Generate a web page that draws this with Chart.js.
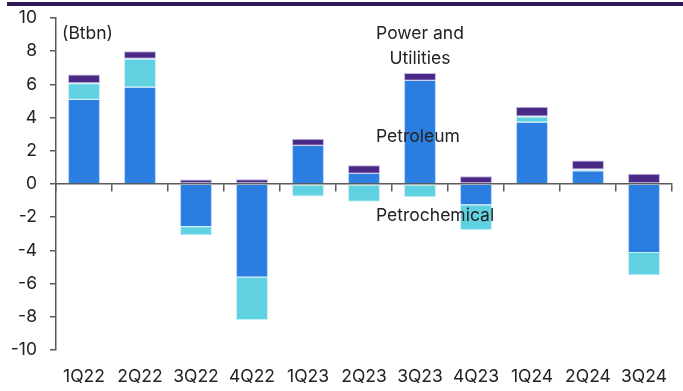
<!DOCTYPE html>
<html>
<head>
<meta charset="utf-8">
<script src="https://cdn.jsdelivr.net/npm/chart.js@4/dist/chart.umd.min.js"></script>
<style>
  html, body { margin: 0; padding: 0; background: #ffffff; }
  #wrap { position: relative; width: 683px; height: 391px; }
</style>
</head>
<body>
<div id="wrap"><canvas id="c" width="683" height="391"></canvas></div>
<script>
const categories = ['1Q22','2Q22','3Q22','4Q22','1Q23','2Q23','3Q23','4Q23','1Q24','2Q24','3Q24'];
const petroleum     = [5.07, 5.82, -2.54, -5.59, 2.30, 0.61, 6.22, -1.23, 3.70, 0.77, -4.10];
const petrochemical = [1.00, 1.72, -0.55, -2.61, -0.75, -1.07, -0.80, -1.56, 0.36, 0.10, -1.40];
const power         = [0.52, 0.46, 0.27, 0.28, 0.42, 0.52, 0.47, 0.47, 0.59, 0.55, 0.62];
const yTicks = [10, 8, 6, 4, 2, 0, -2, -4, -6, -8, -10];
const unitLabel = '(Btbn)';

const FONT = 'Inter, "Open Sans", sans-serif';
const TXT = '#222222';
const AXIS = '#5a5a5a';
const FS = 17.5;

const decor = {
  id: 'decor',
  beforeDraw(chart) {
    const ctx = chart.ctx;
    ctx.save();
    ctx.fillStyle = '#2f1a57';
    ctx.fillRect(7, 2, chart.width - 7, 4);
    ctx.restore();
  },
  afterDatasetsDraw(chart) {
    const ctx = chart.ctx;
    const xs = chart.scales.x, ys = chart.scales.y;
    ctx.save();
    ctx.fillStyle = TXT;
    ctx.font = FS + 'px ' + FONT;
    ctx.textBaseline = 'middle';
    ctx.textAlign = 'left';
    ctx.fillText(unitLabel, xs.left + 6, ys.getPixelForValue(9.05));
    const cx = xs.getPixelForValue(6);
    ctx.textAlign = 'center';
    ctx.fillText('Power and', cx, ys.getPixelForValue(9.07));
    ctx.fillText('Utilities', cx, ys.getPixelForValue(7.52));
    ctx.textAlign = 'left';
    ctx.fillText('Petroleum', cx - 44, ys.getPixelForValue(2.87));
    ctx.fillText('Petrochemical', cx - 44, ys.getPixelForValue(-1.93));
    ctx.restore();
  }
};

new Chart(document.getElementById('c'), {
  type: 'bar',
  data: {
    labels: categories,
    datasets: [
      { label: 'Petroleum', data: petroleum, backgroundColor: '#2b7de0', borderColor: 'rgba(160,200,245,0.8)', borderWidth: {left:1,right:1,top:0,bottom:0}, borderSkipped: false },
      { label: 'Petrochemical', data: petrochemical, backgroundColor: '#5fd1e0', borderColor: 'rgba(190,240,245,0.9)', borderWidth: 1, borderSkipped: false },
      { label: 'Power and Utilities', data: power, backgroundColor: '#4a2886', borderColor: 'rgba(170,150,210,0.7)', borderWidth: 1, borderSkipped: false }
    ]
  },
  options: {
    responsive: false,
    animation: false,
    devicePixelRatio: 1,
    layout: { padding: { left: 0, right: 11, top: 18, bottom: 0 } },
    plugins: { legend: { display: false }, tooltip: { enabled: false } },
    datasets: { bar: { categoryPercentage: 1, barPercentage: 0.57 } },
    scales: {
      x: {
        stacked: true,
        offset: true,
        grid: { display: false, drawTicks: false },
        border: { display: false },
        ticks: { color: TXT, font: { family: FONT, size: FS }, padding: 16, maxRotation: 0, autoSkip: false },
        afterFit(s) { s.height = 41; s.paddingLeft = 0; s.paddingRight = 0; }
      },
      x2: {
        type: 'category',
        axis: 'x',
        labels: categories,
        position: { y: 0 },
        offset: true,
        grid: { display: true, drawOnChartArea: false, drawTicks: true, tickLength: 7, offset: true, color: AXIS, lineWidth: 1.5 },
        border: { display: true, color: AXIS, width: 1.5 },
        ticks: { display: false },
        afterFit(s) { s.paddingLeft = 0; s.paddingRight = 0; s.paddingTop = 0; s.paddingBottom = 0; }
      },
      y: {
        stacked: true,
        min: -10,
        max: 10,
        afterBuildTicks(s) { s.ticks = yTicks.map(v => ({ value: v })); },
        grid: { display: true, drawOnChartArea: false, drawTicks: true, tickLength: 6, color: AXIS, lineWidth: 1.5 },
        border: { display: true, color: AXIS, width: 1.5 },
        ticks: { color: TXT, font: { family: FONT, size: FS }, padding: 13 },
        afterFit(s) { s.width = 56; s.paddingTop = 0; s.paddingBottom = 0; }
      }
    }
  },
  plugins: [decor]
});
</script>
</body>
</html>
